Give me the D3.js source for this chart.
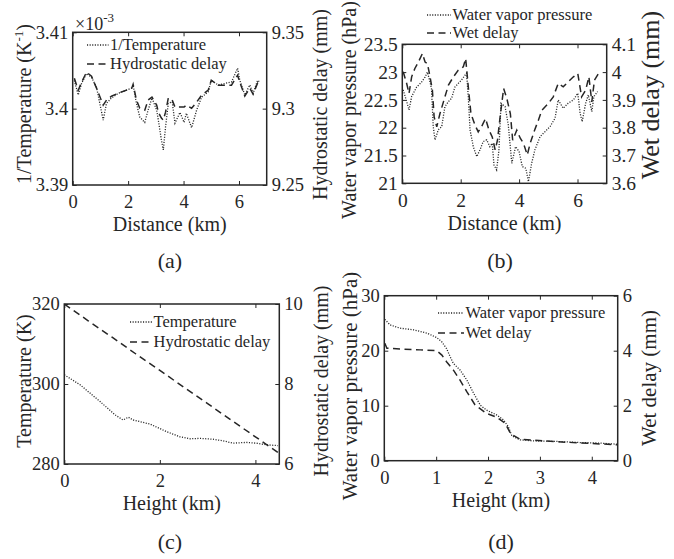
<!DOCTYPE html>
<html><head><meta charset="utf-8">
<script src="https://cdn.jsdelivr.net/npm/d3@7"></script>
<style>
body{margin:0;background:#fff}
svg{display:block}
</style>
</head><body>
<svg id="chart" width="674" height="559"></svg>
<script>
// ---------- DATA ----------
// (a)
const aDist = [0.06,0.2,0.32,0.5,0.68,0.86,1.1,1.22,1.4,1.64,2.13,2.18,2.3,2.42,2.6,2.72,2.86,3.03,3.09,3.2,3.27,3.35,3.45,3.59,3.69,3.87,4.02,4.1,4.29,4.47,4.65,4.89,5.0,5.25,5.49,5.73,5.95,6.03,6.21,6.39,6.51,6.67,6.75];
const aInvTemp = [3.4037,3.4018,3.4033,3.4046,3.4041,3.4028,3.3985,3.4007,3.4014,3.4020,3.4027,3.4031,3.4007,3.3989,3.3982,3.3998,3.4014,3.3998,3.3985,3.3959,3.3946,3.3976,3.4007,3.4009,3.3981,3.3995,3.3982,3.3994,3.3975,3.3998,3.4015,3.4022,3.4037,3.4031,3.4033,3.4035,3.4053,3.4037,3.4018,3.4031,3.4020,3.4037,3.4035];
const aHydro = [9.3199,9.3121,9.3173,9.3239,9.3212,9.3134,9.3023,9.3056,9.3082,9.3101,9.3134,9.3160,9.3056,9.3003,9.2990,9.3056,9.3075,9.3023,9.2977,9.2938,9.2925,9.2977,9.3069,9.3056,9.3010,9.3010,9.3010,9.3023,9.3003,9.3042,9.3088,9.3121,9.3186,9.3154,9.3154,9.3154,9.3219,9.3173,9.3082,9.3134,9.3095,9.3167,9.3154];
const aXTicks = [0,2,4,6];
const aLeftTicks = [3.39,3.40,3.41];
const aLeftLabels = ["3.39","3.4","3.41"];
const aRightTicks = [9.25,9.30,9.35];
const aRightLabels = ["9.25","9.3","9.35"];
// (b)
const bDistWvp = [0.03,0.15,0.23,0.32,0.49,0.66,0.78,0.86,0.95,1.0,1.06,1.12,1.23,1.35,1.46,1.58,1.69,1.8,2.03,2.2,2.26,2.32,2.43,2.55,2.66,2.77,2.89,3.0,3.08,3.14,3.23,3.31,3.38,3.52,3.63,3.75,3.88,4.0,4.11,4.23,4.32,4.43,4.54,4.72,4.89,5.06,5.23,5.34,5.51,5.68,5.86,6.01,6.09,6.16,6.28,6.37,6.49,6.56,6.69];
const bWvp = [22.68,22.47,22.32,22.56,22.73,22.82,22.91,23.0,22.82,22.7,22.02,21.78,21.96,22.02,22.38,22.47,22.53,22.73,22.86,22.98,22.56,21.96,21.66,21.48,21.6,21.75,21.78,21.66,21.72,21.33,21.24,21.6,22.44,22.38,22.05,21.36,21.66,21.57,21.3,21.27,21.03,21.36,21.6,21.84,21.93,22.02,22.17,22.5,22.35,22.44,22.5,22.62,22.26,22.11,22.44,22.59,22.29,22.56,22.65];
const bDistWet = [0.03,0.15,0.23,0.32,0.43,0.55,0.69,0.78,0.86,0.95,1.03,1.09,1.18,1.29,1.46,1.58,1.75,1.92,2.09,2.17,2.26,2.35,2.49,2.6,2.74,2.85,2.97,3.08,3.18,3.26,3.35,3.47,3.58,3.7,3.78,3.92,4.04,4.15,4.28,4.38,4.53,4.66,4.78,5.0,5.17,5.34,5.51,5.68,5.86,6.01,6.14,6.28,6.39,6.49,6.58,6.72];
const bWet = [4.001,3.959,3.923,3.983,4.013,4.036,4.067,4.036,4.031,3.983,3.935,3.839,3.803,3.851,3.911,3.953,3.983,4.007,4.019,4.049,3.947,3.851,3.809,3.785,3.809,3.833,3.791,3.767,3.720,3.755,3.839,3.941,3.905,3.851,3.755,3.791,3.762,3.744,3.702,3.744,3.791,3.827,3.863,3.887,3.911,3.959,3.947,3.965,3.983,3.995,3.911,3.935,3.983,3.893,3.971,3.995];
const bXTicks = [0,2,4,6];
const bLeftTicks = [21,21.5,22,22.5,23,23.5];
const bLeftLabels = ["21","21.5","22","22.5","23","23.5"];
const bRightTicks = [3.6,3.7,3.8,3.9,4.0,4.1];
const bRightLabels = ["3.6","3.7","3.8","3.9","4","4.1"];
// (c)
const cHeight = [0,0.33,0.75,1.06,1.23,1.34,1.44,1.79,2.14,2.42,2.63,2.84,3.11,3.32,3.53,3.81,4.02,4.23,4.47];
const cTemp = [302.3,299.8,295.6,292.3,291.0,291.7,291.0,290.0,288.1,286.8,286.3,286.4,286.2,285.8,285.2,285.4,285.2,284.8,284.6];
const cHeightHyd = [0,0.5,1.0,1.5,2.0,2.5,3.0,3.5,4.0,4.47];
const cHydro = [10.0,9.58,9.17,8.75,8.34,7.92,7.51,7.09,6.68,6.29];
const cXTicks = [0,2,4];
const cLeftTicks = [280,300,320];
const cLeftLabels = ["280","300","320"];
const cRightTicks = [6,8,10];
const cRightLabels = ["6","8","10"];
// (d)
const dHeightWvp = [0.01,0.11,0.3,0.56,0.82,1.01,1.11,1.2,1.27,1.33,1.46,1.59,1.72,1.85,1.97,2.17,2.3,2.39,2.46,2.62,2.87,3.33,3.77,4.16,4.49];
const dWvp = [25.7,24.7,24.1,23.8,23.2,22.4,21.6,20.4,18.9,17.7,16.5,14.7,12.3,10.1,9.2,8.3,7.4,6.2,4.5,3.8,3.6,3.5,3.3,3.2,3.0];
const dHeightWet = [0.01,0.05,0.3,0.69,1.01,1.11,1.2,1.33,1.46,1.59,1.75,1.97,2.17,2.33,2.44,2.62,3.33,4.16,4.49];
const dWet = [4.27,4.09,4.06,4.03,4.0,3.84,3.6,3.3,2.93,2.51,2.03,1.72,1.58,1.36,0.97,0.78,0.69,0.61,0.58];
const dXTicks = [0,1,2,3,4];
const dLeftTicks = [0,10,20,30];
const dLeftLabels = ["0","10","20","30"];
const dRightTicks = [0,2,4,6];
const dRightLabels = ["0","2","4","6"];

// ---------- DRAWING ----------
const svg = d3.select("#chart");
const FONT = '"Liberation Serif"';
const INK = "#262626";
const DOT = "1.1,1.5";
const DASH = "7,4.5";

function txt(sel) { return sel.attr("font-family", FONT).attr("fill", INK); }

function drawPanel(o) {
  const g = svg.append("g");
  const x = d3.scaleLinear().domain(o.xDomain).range([o.L, o.R]);
  const yl = d3.scaleLinear().domain(o.ylDomain).range([o.B, o.T]);
  const yr = d3.scaleLinear().domain(o.yrDomain).range([o.B, o.T]);

  const style = sel => {
    sel.attr("font-family", FONT).attr("font-size", o.tickFont);
    sel.select(".domain").remove();
    sel.selectAll(".tick line").attr("stroke", INK).attr("stroke-width", 1);
    sel.selectAll(".tick text").attr("fill", INK).attr("font-family", FONT).attr("font-size", o.tickFont);
  };
  g.append("g").attr("transform", `translate(0,${o.B})`)
    .call(d3.axisBottom(x).tickValues(o.xTicks).tickFormat(d3.format("d")).tickSizeInner(-4).tickSizeOuter(0).tickPadding(10)).call(style);
  g.append("g").attr("transform", `translate(0,${o.T})`)
    .call(d3.axisTop(x).tickValues(o.xTicks).tickFormat("").tickSizeInner(-4).tickSizeOuter(0)).call(style);
  g.append("g").attr("transform", `translate(${o.L},0)`)
    .call(d3.axisLeft(yl).tickValues(o.ylTicks).tickFormat((d, i) => o.ylLabels[i]).tickSizeInner(-4).tickSizeOuter(0).tickPadding(4.5)).call(style);
  g.append("g").attr("transform", `translate(${o.R},0)`)
    .call(d3.axisRight(yr).tickValues(o.yrTicks).tickFormat((d, i) => o.yrLabels[i]).tickSizeInner(-4).tickSizeOuter(0).tickPadding(5)).call(style);

  g.append("rect").attr("x", o.L).attr("y", o.T).attr("width", o.R - o.L).attr("height", o.B - o.T)
    .attr("fill", "none").attr("stroke", INK).attr("stroke-width", 1.5);

  const clipId = "clip" + o.id;
  svg.append("clipPath").attr("id", clipId).append("rect")
    .attr("x", o.L).attr("y", o.T - 2).attr("width", o.R - o.L).attr("height", o.B - o.T + 4);

  const lineL = d3.line().x(d => x(d[0])).y(d => yl(d[1]));
  const lineR = d3.line().x(d => x(d[0])).y(d => yr(d[1]));
  g.append("path").attr("clip-path", `url(#${clipId})`)
    .attr("d", lineL(d3.zip(o.xL, o.vL))).attr("fill", "none").attr("stroke", INK)
    .attr("stroke-width", 1.3).attr("stroke-dasharray", DOT);
  g.append("path").attr("clip-path", `url(#${clipId})`)
    .attr("d", lineR(d3.zip(o.xR, o.vR))).attr("fill", "none").attr("stroke", INK)
    .attr("stroke-width", 1.5).attr("stroke-dasharray", DASH);

  g.append("text").call(txt).attr("x", (o.L + o.R) / 2).attr("y", o.xTitleY).attr("text-anchor", "middle")
    .attr("font-size", 20).text(o.xTitle);
  const ylt = g.append("text").call(txt).attr("transform", `translate(${o.ylTitleX},${o.ylTitleC}) rotate(-90)`)
    .attr("text-anchor", "middle").attr("font-size", o.ylTitleFont);
  o.ylTitle(ylt);
  g.append("text").call(txt).attr("transform", `translate(${o.yrTitleX},${o.yrTitleC}) rotate(-90)`)
    .attr("text-anchor", "middle").attr("font-size", o.yrTitleFont).text(o.yrTitle);
  g.append("text").call(txt).attr("x", o.capX).attr("y", o.capY).attr("text-anchor", "middle")
    .attr("font-size", 22).text(o.caption);
  o.legend.forEach((it, i) => {
    const yy = o.legY[i];
    g.append("line").attr("x1", o.legX0).attr("x2", o.legX1).attr("y1", yy).attr("y2", yy)
      .attr("stroke", INK).attr("stroke-width", i === 0 ? 1.3 : 1.5)
      .attr("stroke-dasharray", i === 0 ? DOT : DASH);
    g.append("text").call(txt).attr("x", o.legX1 + 1.5).attr("y", yy).attr("dy", "0.33em")
      .attr("font-size", 16.5).text(it);
  });
  return g;
}

const gA = drawPanel({
  id: "a", L: 72.7, R: 266.7, T: 32.3, B: 185,
  xDomain: [0, 7], ylDomain: [3.39, 3.41], yrDomain: [9.25, 9.35],
  xTicks: aXTicks, ylTicks: aLeftTicks, ylLabels: aLeftLabels, yrTicks: aRightTicks, yrLabels: aRightLabels,
  tickFont: 18.5,
  xL: aDist, vL: aInvTemp, xR: aDist, vR: aHydro,
  xTitle: "Distance (km)", xTitleY: 231,
  ylTitleX: 31, ylTitleC: 104, ylTitleFont: 20,
  ylTitle: t => { t.append("tspan").text("1/Temperature (K"); t.append("tspan").attr("dy", -8).attr("font-size", 13).text("-1"); t.append("tspan").attr("dy", 8).text(")"); },
  yrTitleX: 327, yrTitleC: 104.5, yrTitleFont: 20, yrTitle: "Hydrostatic delay (mm)",
  capX: 170, capY: 268, caption: "(a)",
  legend: ["1/Temperature", "Hydrostatic delay"], legX0: 87, legX1: 108.5, legY: [45, 64]
});
const ex = gA.append("text").call(txt).attr("x", 75).attr("y", 30).attr("font-size", 18);
ex.append("tspan").text("\u00d710");
ex.append("tspan").attr("dy", -8).attr("font-size", 13).text("-3");

drawPanel({
  id: "b", L: 402.3, R: 606.7, T: 44.3, B: 183.3,
  xDomain: [0, 7], ylDomain: [21, 23.5], yrDomain: [3.6, 4.1],
  xTicks: bXTicks, ylTicks: bLeftTicks, ylLabels: bLeftLabels, yrTicks: bRightTicks, yrLabels: bRightLabels,
  tickFont: 19.5,
  xL: bDistWvp, vL: bWvp, xR: bDistWet, vR: bWet,
  xTitle: "Distance (km)", xTitleY: 230,
  ylTitleX: 356, ylTitleC: 110, ylTitleFont: 20,
  ylTitle: t => t.text("Water vapor pressure (hPa)"),
  yrTitleX: 659, yrTitleC: 95, yrTitleFont: 26, yrTitle: "Wet delay (mm)",
  capX: 500, capY: 268, caption: "(b)",
  legend: ["Water vapor pressure", "Wet delay"], legX0: 427, legX1: 451, legY: [15, 33]
});

drawPanel({
  id: "c", L: 64.3, R: 279.3, T: 304, B: 464,
  xDomain: [0, 4.5], ylDomain: [280, 320], yrDomain: [6, 10],
  xTicks: cXTicks, ylTicks: cLeftTicks, ylLabels: cLeftLabels, yrTicks: cRightTicks, yrLabels: cRightLabels,
  tickFont: 18.5,
  xL: cHeight, vL: cTemp, xR: cHeightHyd, vR: cHydro,
  xTitle: "Height (km)", xTitleY: 510,
  ylTitleX: 31, ylTitleC: 381, ylTitleFont: 20,
  ylTitle: t => t.text("Temperature (K)"),
  yrTitleX: 328, yrTitleC: 381, yrTitleFont: 20, yrTitle: "Hydrostatic delay (mm)",
  capX: 170, capY: 549, caption: "(c)",
  legend: ["Temperature", "Hydrostatic delay"], legX0: 130, legX1: 152, legY: [322, 342]
});

drawPanel({
  id: "d", L: 384.3, R: 617.7, T: 295.7, B: 460.7,
  xDomain: [0, 4.5], ylDomain: [0, 30], yrDomain: [0, 6],
  xTicks: dXTicks, ylTicks: dLeftTicks, ylLabels: dLeftLabels, yrTicks: dRightTicks, yrLabels: dRightLabels,
  tickFont: 18.5,
  xL: dHeightWvp, vL: dWvp, xR: dHeightWet, vR: dWet,
  xTitle: "Height (km)", xTitleY: 507,
  ylTitleX: 357, ylTitleC: 386, ylTitleFont: 21,
  ylTitle: t => t.text("Water vapor pressure (hPa)"),
  yrTitleX: 656, yrTitleC: 378, yrTitleFont: 21, yrTitle: "Wet delay (mm)",
  capX: 501, capY: 549, caption: "(d)",
  legend: ["Water vapor pressure", "Wet delay"], legX0: 438, legX1: 464, legY: [313, 333]
});
</script>
</body></html>
